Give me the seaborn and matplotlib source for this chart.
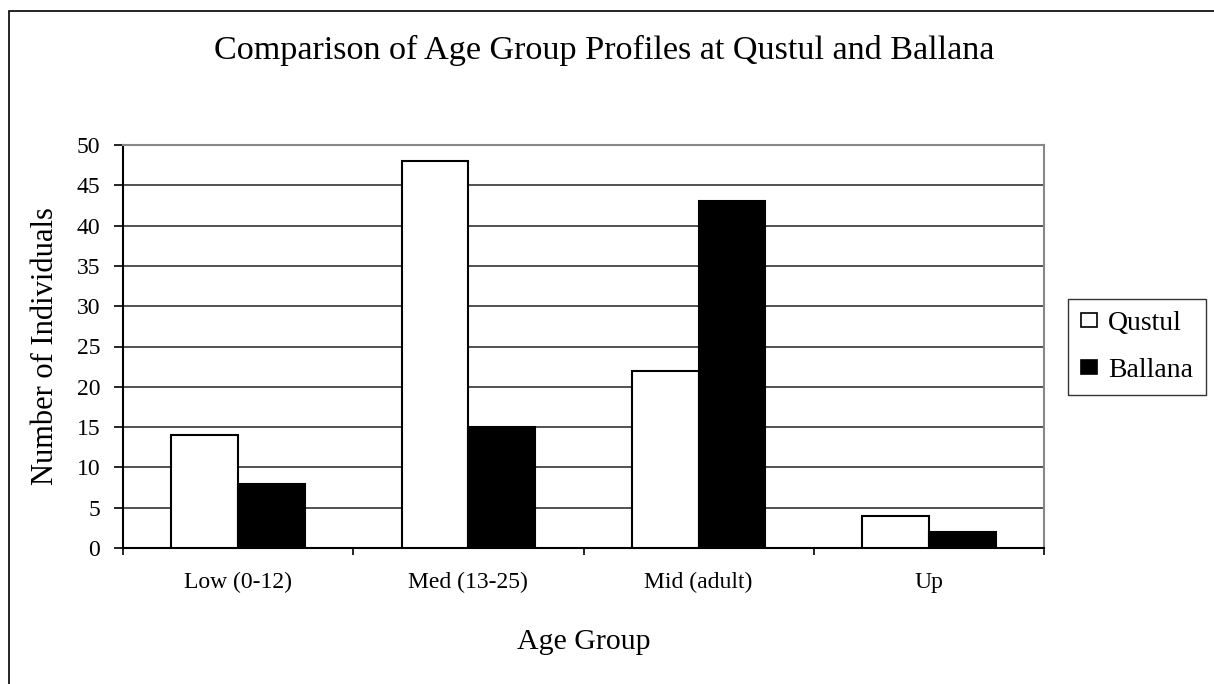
import matplotlib.pyplot as plt
import matplotlib.patches as mpatches
import pandas as pd
import seaborn as sns

# data
age_groups = ['Low (0-12)', 'Med (13-25)', 'Mid (adult)', 'Up']
qustul = [14, 48, 22, 4]
ballana = [8, 15, 43, 2]
sites = ['Qustul', 'Ballana']
site_colors = ['white', 'black']
y_ticks = [0, 5, 10, 15, 20, 25, 30, 35, 40, 45, 50]

df = pd.DataFrame({
    'Age Group': age_groups * 2,
    'Site': ['Qustul'] * len(age_groups) + ['Ballana'] * len(age_groups),
    'Count': qustul + ballana,
})

sns.set_style('white')
plt.rcParams['font.family'] = ['Liberation Serif', 'DejaVu Serif']
plt.rcParams['text.color'] = 'black'
plt.rcParams['axes.labelcolor'] = 'black'
plt.rcParams['xtick.color'] = 'black'
plt.rcParams['ytick.color'] = 'black'

fig = plt.figure(figsize=(12.14, 6.84), dpi=100)
ax = fig.add_axes([123 / 1214, 1 - 548 / 684, (1044 - 123) / 1214, (548 - 145) / 684])

sns.barplot(data=df, x='Age Group', y='Count', hue='Site', order=age_groups,
            hue_order=sites, palette=site_colors, edgecolor='black',
            linewidth=1.5, width=0.58, ax=ax, legend=False, zorder=3)

ax.set_xlim(-0.5, len(age_groups) - 0.5)
ax.set_ylim(0, 50)
ax.set_yticks(y_ticks)
ax.yaxis.grid(True, color='#222222', linewidth=1.1, zorder=0)
ax.set_axisbelow(True)

# category ticks at the boundaries, like Excel
ax.set_xticks([i - 0.5 for i in range(len(age_groups) + 1)], minor=True)
ax.tick_params(axis='x', which='both', bottom=True)
ax.tick_params(axis='x', which='major', length=0, pad=17, labelsize=17)
ax.tick_params(axis='x', which='minor', length=5, width=1.2, direction='out')
ax.tick_params(axis='y', left=True, length=6.5, width=1.2, direction='out', labelsize=17, pad=10)

for side in ['left', 'bottom']:
    ax.spines[side].set_color('black')
    ax.spines[side].set_linewidth(1.5)
for side in ['top', 'right']:
    ax.spines[side].set_color('#888888')
    ax.spines[side].set_linewidth(1.5)

ax.set_xlabel('Age Group', fontsize=21.5, labelpad=26)
ax.set_ylabel('Number of Individuals', fontsize=22, labelpad=12)

fig.text(0.498, 1 - 50 / 684, 'Comparison of Age Group Profiles at Qustul and Ballana',
         ha='center', va='center', fontsize=24.6)

handles = [mpatches.Patch(facecolor=c, edgecolor='black', linewidth=1.2, label=s)
           for s, c in zip(sites, site_colors)]
leg = fig.legend(handles=handles, loc='center left',
                 bbox_to_anchor=(1068 / 1214, 1 - 347 / 684),
                 frameon=True, fancybox=False, fontsize=20,
                 handlelength=0.6, handleheight=0.42, handletextpad=0.4,
                 labelspacing=0.78, borderpad=0.45, borderaxespad=0)
leg.get_frame().set_edgecolor('black')
leg.get_frame().set_linewidth(1.0)

# outer chart border (only left and top edges fall inside the image)
fig.patches.append(mpatches.Rectangle((9 / 1214, -0.05), 1.2, 1.05 - 11 / 684,
                                      transform=fig.transFigure, fill=False,
                                      edgecolor='black', linewidth=1.2))

plt.savefig('out.png', dpi=100)
